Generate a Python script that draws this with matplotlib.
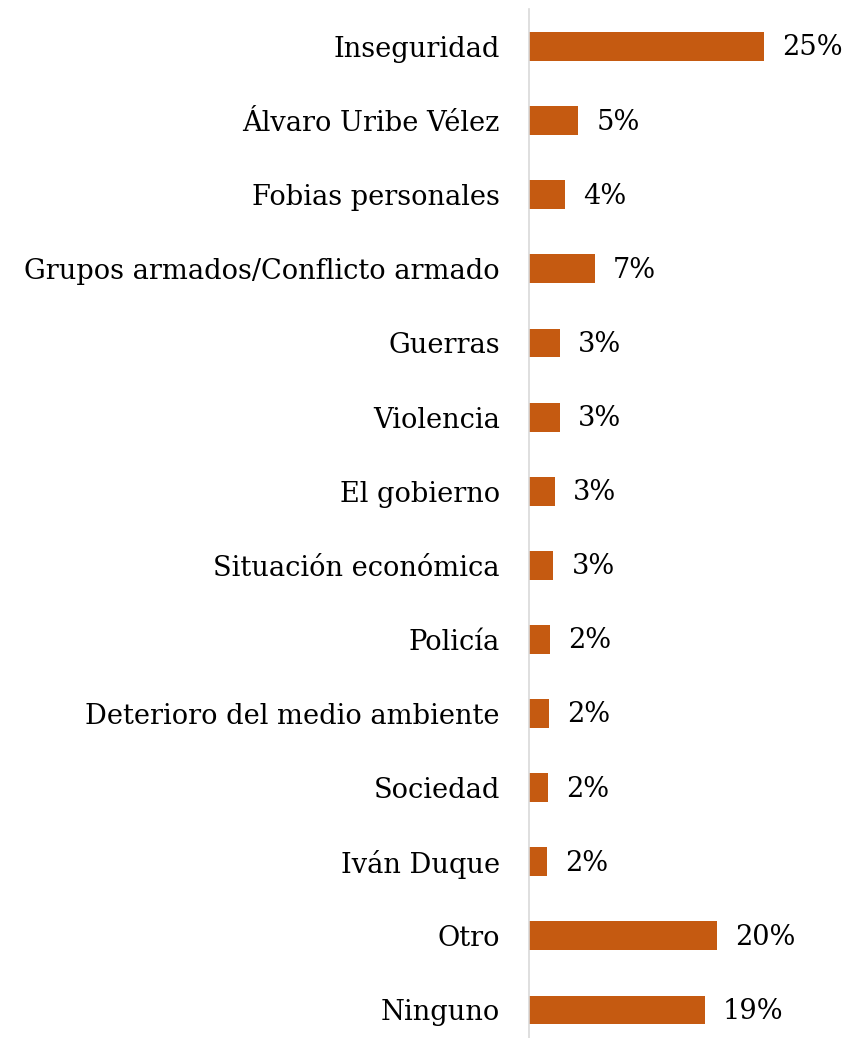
import matplotlib
matplotlib.use("Agg")
import matplotlib.pyplot as plt

categories = ["Inseguridad", "Álvaro Uribe Vélez", "Fobias personales",
              "Grupos armados/Conflicto armado", "Guerras", "Violencia",
              "El gobierno", "Situación económica", "Policía",
              "Deterioro del medio ambiente", "Sociedad", "Iván Duque",
              "Otro", "Ninguno"]
values = [25.0, 5.26, 3.8, 7.0, 3.27, 3.27, 2.77, 2.6, 2.2, 2.17, 1.99, 1.91, 19.97, 18.7]
labels = ["25%", "5%", "4%", "7%", "3%", "3%", "3%", "3%", "2%", "2%", "2%", "2%", "20%", "19%"]

W, H = 854, 1038
dpi = 100
fig = plt.figure(figsize=(W / dpi, H / dpi), dpi=dpi)
left_px, top_px, bottom_px = 529, 9, 1038
ax = fig.add_axes([left_px / W, 0, 1 - left_px / W, 1 - top_px / H])

font = "DejaVu Serif"
color = "#C55A11"
y = list(range(len(categories)))
ax.barh(y, values, height=0.39, color=color)
px_per_unit = 9.4
ax.set_xlim(0, (W - left_px) / px_per_unit)
pitch = 74.1
ax.set_ylim(len(categories) - 1 + 28 / pitch, -37.5 / pitch)

for yi, v, lab in zip(y, values, labels):
    ax.annotate(lab, (v, yi), xytext=(13, -1), textcoords="offset points",
                va="center", ha="left", fontsize=19.6, family=font, color="#000000")

ax.set_yticks(y)
ax.set_yticklabels(categories, fontsize=19.6, family=font)
ax.tick_params(axis="y", length=0, pad=21)
ax.set_xticks([])
for s in ["top", "right", "bottom"]:
    ax.spines[s].set_visible(False)
ax.spines["left"].set_color("#d9d9d9")
ax.spines["left"].set_linewidth(1.2)

fig.savefig("out.png", dpi=dpi, facecolor="white")
